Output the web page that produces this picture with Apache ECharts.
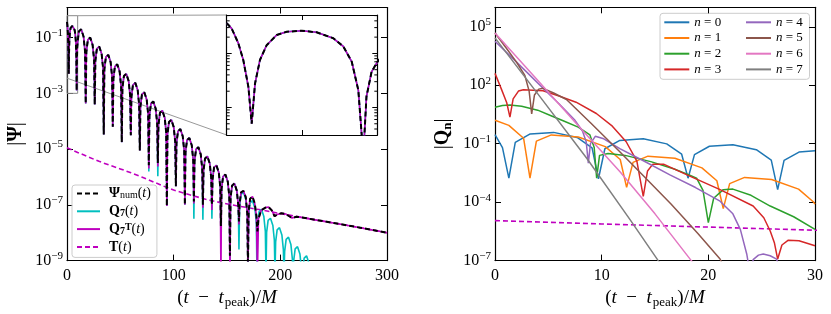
<!DOCTYPE html>
<html><head><meta charset="utf-8">
<script src="https://cdn.jsdelivr.net/npm/echarts@6/dist/echarts.min.js"></script>
<style>html,body{margin:0;padding:0;background:#fff}#c{width:831px;height:314px}</style>
</head><body><div id="c"></div>
<script>
// ---------------- data (values given as log10 of |value|) ----------------
const tGrid = [0,0.33,0.77,1.1,1.44,1.66,1.88,2.21,2.65,3.32,3.98,4.98,5.97,7.08,7.74,8.3,8.74,9.07,9.28,9.62,10.0,
11.1,13.3,15.5,16.9,17.55,
18.15,19.55,21.77,24.0,25.4,26.0,
26.6,28.0,30.22,32.45,33.85,34.45,
35.05,36.45,38.67,40.9,42.3,42.9,
43.5,44.9,47.12,49.35,50.75,51.35,
51.95,53.35,55.57,57.8,59.2,59.8,
60.4,61.8,64.02,66.25,67.65,68.25,
68.85,70.25,72.47,74.7,76.1,76.7,
77.3,78.7,80.92,83.15,84.55,85.15,
85.75,87.15,89.37,91.6,93.0,93.6,
94.2,95.6,97.82,100.05,101.45,102.05,
102.65,104.05,106.27,108.5,109.9,110.5,
111.1,112.5,114.72,116.95,118.35,118.95,
119.55,120.95,123.17,125.4,126.8,127.4,
128.0,129.4,131.62,133.85,135.25,135.85,
136.45,137.85,140.07,142.3,143.7,144.3,
144.9,146.3,148.52,150.75,152.15,152.75,
153.35,154.75,156.97,159.2,160.6,161.2];

const psiNumLog = [-0.44,-0.54,-0.81,-1.12,-1.62,-2.30,-1.56,-1.12,-0.85,-0.66,-0.60,-0.58,-0.61,-0.72,-0.87,-1.15,-1.68,-2.90,-1.80,-1.34,-1.16,
-0.78,-0.70,-0.96,-1.49,-3.36,
-1.51,-1.08,-1.00,-1.26,-1.79,-3.40,
-1.83,-1.40,-1.32,-1.58,-2.11,-4.48,
-2.13,-1.70,-1.62,-1.88,-2.41,-4.20,
-2.47,-2.04,-1.96,-2.22,-2.75,-4.75,
-2.81,-2.38,-2.30,-2.56,-3.09,-4.50,
-3.13,-2.70,-2.62,-2.88,-3.41,-5.05,
-3.47,-3.04,-2.96,-3.22,-3.75,-5.58,
-3.80,-3.37,-3.29,-3.55,-4.08,-5.50,
-4.13,-3.70,-3.62,-3.88,-4.41,-7.04,
-4.46,-4.03,-3.95,-4.21,-4.74,-6.33,
-4.79,-4.36,-4.28,-4.54,-5.07,-7.00,
-5.11,-4.68,-4.60,-4.86,-5.39,-6.88,
-5.44,-5.01,-4.93,-5.19,-5.72,-7.00,
-5.77,-5.34,-5.26,-5.52,-6.05,-7.00,
-6.09,-5.66,-5.58,-5.84,-6.37,-7.76,
-6.42,-5.99,-5.91,-6.17,-6.70,-8.83,
-6.74,-6.31,-6.23,-6.49,-7.02,-7.60];

const q7TLog = [-0.44,-0.54,-0.81,-1.12,-1.62,-2.30,-1.56,-1.12,-0.85,-0.66,-0.60,-0.58,-0.61,-0.72,-0.87,-1.15,-1.68,-2.90,-1.80,-1.34,-1.16,
-0.78,-0.70,-0.96,-1.49,-3.36,
-1.51,-1.08,-1.00,-1.26,-1.79,-3.40,
-1.83,-1.40,-1.32,-1.58,-2.11,-4.48,
-2.13,-1.70,-1.62,-1.88,-2.41,-4.20,
-2.47,-2.04,-1.96,-2.22,-2.75,-4.75,
-2.81,-2.38,-2.30,-2.56,-3.09,-4.50,
-3.13,-2.70,-2.62,-2.88,-3.41,-5.05,
-3.47,-3.04,-2.96,-3.22,-3.75,-5.70,
-3.80,-3.37,-3.29,-3.55,-4.08,-5.62,
-4.13,-3.70,-3.62,-3.88,-4.41,-7.04,
-4.46,-4.03,-3.95,-4.21,-4.74,-6.33,
-4.79,-4.36,-4.28,-4.54,-5.07,-7.00,
-5.11,-4.68,-4.60,-4.86,-5.39,-6.95,
-5.44,-5.01,-4.93,-5.19,-5.72,-7.10,
-5.77,-5.34,-5.26,-5.52,-6.05,-7.18,
-6.09,-5.66,-5.58,-5.84,-6.37,-9.50,
-6.42,-5.99,-5.91,-6.17,-6.70,-9.50,
-6.74,-6.31,-6.23,-6.49,-7.02,-7.70];

const q7Log = [-0.44,-0.54,-0.81,-1.12,-1.62,-2.30,-1.56,-1.12,-0.85,-0.66,-0.60,-0.58,-0.61,-0.72,-0.87,-1.15,-1.68,-2.90,-1.80,-1.34,-1.16,
-0.78,-0.70,-0.96,-1.49,-3.36,
-1.51,-1.08,-1.00,-1.26,-1.79,-3.40,
-1.83,-1.40,-1.32,-1.58,-2.11,-4.48,
-2.13,-1.70,-1.62,-1.88,-2.41,-4.20,
-2.47,-2.04,-1.96,-2.22,-2.75,-4.75,
-2.81,-2.38,-2.30,-2.56,-3.09,-4.50,
-3.13,-2.70,-2.62,-2.88,-3.41,-5.05,
-3.47,-3.04,-2.96,-3.22,-3.75,-5.80,
-3.80,-3.37,-3.29,-3.55,-4.08,-5.97,
-4.13,-3.70,-3.62,-3.88,-4.41,-7.04,
-4.46,-4.03,-3.95,-4.21,-4.74,-6.33,
-4.79,-4.36,-4.28,-4.54,-5.07,-7.00,
-5.11,-4.68,-4.60,-4.86,-5.39,-7.50,
-5.44,-5.01,-4.93,-5.19,-5.72,-7.53,
-5.77,-5.34,-5.26,-5.52,-6.05,-7.50,
-6.09,-5.66,-5.58,-5.84,-6.37,-8.00,
-6.42,-5.99,-5.91,-6.17,-6.70,-9.00,
-6.74,-6.31,-6.23,-6.49,-7.02,-8.60];

// late-time parts [t, log10 value]
const psiNumTail = [[161.8,-6.95],[163.2,-6.55],[165.4,-6.50],[167.6,-6.72],[169.0,-7.3],[169.65,-9.2],[170.3,-7.2],[171.7,-6.78],[173.85,-6.70],[176.0,-6.95],[177.6,-7.4],[178.5,-7.95],[179.5,-7.5],[182,-7.2],[186,-7.1],[189,-7.08],[192,-7.2],[194.6,-7.41],[197,-7.35],[201,-7.3],[205.3,-7.33],[208,-7.4],[211,-7.47],[215,-7.43],[220,-7.45],[230,-7.52],[250,-7.65],[275,-7.82],[300,-8.0]];
const q7TTail = [[161.8,-6.95],[163.2,-6.55],[165.4,-6.50],[167.6,-6.72],[169.0,-7.3],[169.65,-9.5],[170.3,-7.2],[171.7,-6.78],[173.85,-6.70],[176.0,-6.95],[177.6,-7.4],[178.5,-9.5],[179.5,-7.5],[182,-7.2],[186,-7.1],[189,-7.08],[192,-7.2],[194.6,-7.41],[197,-7.35],[201,-7.3],[205.3,-7.33],[208,-7.4],[211,-7.47],[215,-7.43],[220,-7.45],[230,-7.52],[250,-7.65],[275,-7.82],[300,-8.0]];
const q7Tail = [[161.8,-7.06],[163.2,-6.63],[165.42,-6.55],[167.65,-6.81],[169.05,-7.34],[169.65,-9.5],
[170.25,-7.36],[171.65,-6.93],[173.87,-6.85],[176.1,-7.11],[177.5,-7.64],[178.1,-9.5],
[178.7,-7.67],[180.1,-7.24],[182.32,-7.16],[184.55,-7.42],[185.95,-7.95],[186.55,-9.5],
[187.15,-7.99],[188.55,-7.56],[190.77,-7.48],[193.0,-7.74],[194.4,-8.27],[195.0,-9.5],
[195.6,-8.33],[197.0,-7.90],[199.22,-7.82],[201.45,-8.08],[202.85,-8.61],[203.45,-9.5],
[204.05,-8.67],[205.45,-8.24],[207.67,-8.16],[209.9,-8.42],[211.3,-8.95],[211.9,-9.5],
[212.5,-9.01],[213.9,-8.58],[216.12,-8.50],[218.35,-8.76],[219.75,-9.29],[220.35,-9.6],
[220.95,-9.34],[222.35,-8.91],[224.57,-8.83],[226.8,-9.09],[228.2,-9.62],[228.8,-10]];

// T(t) tail term
const tailTimes = [0,10,20,30,40,50,60,70,80,90,100,115,130,145,160,180,200,220,250,275,300];
const tailLog   = [-4.95,-5.12,-5.28,-5.44,-5.58,-5.71,-5.85,-6.0,-6.16,-6.32,-6.47,-6.64,-6.8,-6.93,-7.04,-7.17,-7.31,-7.45,-7.65,-7.82,-8.0];

// right panel |Q_n| , [t, log10 value]
const qn0 = [[0,-0.53],[0.7,-1.2],[1.3,-2.77],[1.9,-0.93],[3.3,-0.50],[5.5,-0.42],[7.7,-0.68],[9.1,-1.21],[9.7,-2.8],[10.3,-1.26],[11.7,-0.83],[13.9,-0.75],[16.1,-1.01],[17.5,-1.54],[18.1,-2.77],[18.7,-1.56],[20.1,-1.13],[22.3,-1.05],[24.5,-1.31],[25.9,-1.84],[26.5,-3.36],[27.1,-1.86],[28.5,-1.43],[30,-1.36]];
const qn1 = [[0,0.20],[1.3,-0.06],[2.68,-0.72],[3.28,-2.77],[3.88,-0.87],[5.28,-0.55],[7.81,-0.66],[10.34,-1.15],[11.74,-1.81],[12.34,-3.24],[12.94,-1.96],[14.34,-1.64],[16.87,-1.75],[19.4,-2.24],[20.8,-2.9],[21.4,-4.33],[22.0,-3.05],[23.4,-2.73],[25.93,-2.84],[28.46,-3.33],[29.86,-3.99],[30,-4.1]];
const qn2 = [[0,0.87],[0.7,0.96],[1.4,0.99],[2.5,0.92],[4,0.72],[5.2,0.45],[6.5,0.15],[7.8,-0.15],[8.9,-0.55],[9.3,-1.2],[9.53,-2.77],[9.8,-1.6],[10.6,-1.5],[12.2,-1.6],[14.6,-1.92],[16.8,-2.3],[18.2,-2.6],[18.9,-2.77],[19.5,-3.4],[20.0,-5.05],[20.5,-3.8],[21.4,-3.36],[22.3,-3.33],[24,-3.65],[25.8,-4.2],[28,-4.75],[30,-5.4]];
const qn3 = [[0,2.61],[0.6,1.8],[1.1,1.1],[1.4,0.36],[1.7,1.3],[2.2,1.7],[2.66,1.77],[4.5,1.72],[6,1.45],[7.6,1.13],[9.5,0.55],[11,-0.1],[12.3,-0.9],[13.3,-1.9],[13.9,-3.7],[14.3,-2.4],[14.8,-2.05],[15.8,-2.05],[18,-2.6],[21.1,-3.36],[24.2,-4.2],[25.2,-4.8],[25.8,-5.48],[26.2,-6.1],[26.5,-6.92],[26.9,-6.2],[27.5,-5.95],[28.5,-5.98],[30,-6.24]];
const qn4 = [[0,4.26],[2,3.2],[4,2.12],[6,1.05],[7.5,0.2],[8.2,-0.35],[8.55,-0.9],[8.75,-2.0],[8.95,-1.0],[9.4,-0.62],[10.2,-0.75],[11.7,-1.25],[14,-1.9],[16.4,-2.6],[18.8,-3.25],[21.1,-3.95],[22.3,-4.6],[23.0,-5.4],[23.6,-6.66],[23.8,-7.3],[23.95,-8],[24.2,-6.95],[24.7,-6.72],[25.15,-6.66],[25.8,-6.75],[26.4,-6.92],[26.7,-7.5]];
const qn5 = [[0,4.68],[1,3.95],[2,3.2],[2.8,2.5],[3.2,1.7],[3.44,0.53],[3.7,1.5],[4.1,1.8],[4.5,1.84],[5.5,1.6],[6.7,1.27],[9,0.05],[11.7,-1.41],[14,-2.7],[16.5,-4.1],[19,-5.6],[21.1,-6.92],[21.6,-7.5]];
const qn6 = [[0,4.68],[4,2.25],[8,-0.2],[11.7,-2.43],[15,-4.6],[18.4,-7],[19,-7.4]];
const qn7 = [[0,4.43],[4.3,1.35],[8.6,-1.75],[12.66,-4.9],[15.3,-7.0],[16,-7.5]];

const modeNames = ['n0','n1','n2','n3','n4','n5','n6','n7'];
const modeColors = ['#1f77b4','#ff7f0e','#2ca02c','#d62728','#9467bd','#8c564b','#e377c2','#7f7f7f'];

// inset / zoom box
const insetX = [0, 10];
const insetY = [3.1e-3, 0.513];
const zoomBoxY = [1e-3, 0.61];
const connectorLowY = 3.5e-3;
const insetMinorTicks = [4e-3,5e-3,6e-3,7e-3,8e-3,9e-3,2e-2,3e-2,4e-2,5e-2,6e-2,7e-2,8e-2,9e-2,2e-1,3e-1,4e-1,5e-1];

// ---------------- build ----------------
const P = v => Math.pow(10, v);
const gridSeries = (times, logs) => times.map((t, i) => [t, P(logs[i])]);
const pairSeries = arr => arr.map(d => [d[0], P(d[1])]);

const psiData  = gridSeries(tGrid, psiNumLog).concat(pairSeries(psiNumTail));
const q7TData  = gridSeries(tGrid, q7TLog).concat(pairSeries(q7TTail));
const q7Data   = gridSeries(tGrid, q7Log).concat(pairSeries(q7Tail));
const tailData = gridSeries(tailTimes, tailLog);
const modeData = [qn0,qn1,qn2,qn3,qn4,qn5,qn6,qn7].map(pairSeries);

const F = '"Liberation Serif", "DejaVu Serif", serif';
const MAGENTA = '#bf00bf', CYAN = '#00bfbf';

const logLabel = (show) => ({
  show: show, showMaxLabel: false, showMinLabel: true, margin: 4,
  formatter: v => { const e = Math.round(Math.log10(v)); return '{b|10}{s|' + (e < 0 ? '\u2212' : '') + Math.abs(e) + '}'; },
  rich: { b: {fontFamily: F, fontSize: 16, color: '#000'}, s: {fontFamily: F, fontSize: 11, color: '#000', padding: [0,0,9,0]} }
});
const axLine = {show: true, onZero: false, lineStyle: {color: '#000', width: 1.2}};
const tick = (len) => ({show: true, inside: true, length: len, lineStyle: {color: '#000', width: 1}});
const xLabel = {fontFamily: F, fontSize: 16, color: '#000', margin: 7};
const xName = '{r|(}{i|t}{r|\u2002\u2212\u2002}{i|t}{sub|peak}{r|)/}{i|M}';
const xNameStyle = {fontFamily: F, fontSize: 19, color: '#000', rich: {
  r: {fontFamily: F, fontSize: 19}, i: {fontFamily: F, fontSize: 19, fontStyle: 'italic'},
  sub: {fontFamily: F, fontSize: 13, padding: [9,0,0,1]} }};

const xAxes = [
  {gridIndex:0, type:'value', min:0, max:300, interval:100, position:'bottom', axisLine:axLine, axisTick:tick(6), axisLabel:xLabel, splitLine:{show:false},
   name: xName, nameLocation:'middle', nameGap: 24, nameTextStyle: xNameStyle},
  {gridIndex:0, type:'value', min:0, max:300, interval:100, position:'top', axisLine:axLine, axisTick:tick(6), axisLabel:{show:false}, splitLine:{show:false}},
  {gridIndex:1, type:'value', min:0, max:30, interval:10, position:'bottom', axisLine:axLine, axisTick:tick(6), axisLabel:xLabel, splitLine:{show:false},
   name: xName, nameLocation:'middle', nameGap: 24, nameTextStyle: xNameStyle},
  {gridIndex:1, type:'value', min:0, max:30, interval:10, position:'top', axisLine:axLine, axisTick:tick(6), axisLabel:{show:false}, splitLine:{show:false}},
  {gridIndex:2, type:'value', min:insetX[0], max:insetX[1], interval:5, position:'bottom', axisLine:axLine, axisTick:tick(5), axisLabel:{show:false}, splitLine:{show:false}, z: 6},
  {gridIndex:2, type:'value', min:insetX[0], max:insetX[1], interval:5, position:'top', axisLine:axLine, axisTick:tick(5), axisLabel:{show:false}, splitLine:{show:false}, z: 6}
];
const yName0 = '{r||}{B|\u03A8}{r||}';
const yName1 = '{r||}{B|Q}{sb|n}{r||}';
const yNameStyle = {fontFamily: F, fontSize: 20, color:'#000', rich: {
  r: {fontFamily: F, fontSize: 20}, B: {fontFamily: F, fontSize: 20, fontWeight: 'bold'},
  sb: {fontFamily: F, fontSize: 13, fontWeight: 'bold', padding: [9,0,0,0]} }};
const yAxes = [
  {gridIndex:0, type:'log', logBase:10, min:1e-9, max:1.2, interval:2, position:'left', axisLine:axLine, axisTick:tick(6), axisLabel:logLabel(true), splitLine:{show:false}, minorTick:{show:false},
   name: yName0, nameLocation:'middle', nameGap: 41, nameRotate: 90, nameTextStyle: yNameStyle},
  {gridIndex:0, type:'log', logBase:10, min:1e-9, max:1.2, interval:2, position:'right', axisLine:axLine, axisTick:tick(6), axisLabel:{show:false}, splitLine:{show:false}},
  {gridIndex:1, type:'log', logBase:10, min:1e-7, max:1e6, interval:3, position:'left', axisLine:axLine, axisTick:tick(6), axisLabel:logLabel(true), splitLine:{show:false},
   name: yName1, nameLocation:'middle', nameGap: 41, nameRotate: 90, nameTextStyle: yNameStyle},
  {gridIndex:1, type:'log', logBase:10, min:1e-7, max:1e6, interval:3, position:'right', axisLine:axLine, axisTick:tick(6), axisLabel:{show:false}, splitLine:{show:false}},
  {gridIndex:2, type:'log', logBase:10, min:insetY[0], max:insetY[1], position:'left', axisLine:axLine, axisTick:tick(5), axisLabel:{show:false}, splitLine:{show:false}, z: 6},
  {gridIndex:2, type:'log', logBase:10, min:insetY[0], max:insetY[1], position:'right', axisLine:axLine, axisTick:tick(5), axisLabel:{show:false}, splitLine:{show:false}, z: 6}
];

const lineS = (name, data, xi, yi, color, width, type, z) => ({
  type:'line', name, data, xAxisIndex: xi, yAxisIndex: yi, symbol:'none', showSymbol:false, silent:true, animation:false,
  lineStyle:{color, width, type: type || 'solid'}, itemStyle:{color}, z: z, clip: true
});

const series = [
  lineS('tail', tailData, 0, 0, MAGENTA, 1.6, [5,3], 2),
  lineS('q7', q7Data, 0, 0, CYAN, 1.6, 'solid', 3),
  lineS('q7t', q7TData, 0, 0, MAGENTA, 1.6, 'solid', 4),
  lineS('psi', psiData, 0, 0, '#000', 2, [5,3], 5),
  lineS('box', [[insetX[0],zoomBoxY[1]],[insetX[1],zoomBoxY[1]],[insetX[1],zoomBoxY[0]],[insetX[0],zoomBoxY[0]],[insetX[0],zoomBoxY[1]]], 0, 0, '#888', 1, 'solid', 1),
  // inset
  lineS('q7', q7Data, 4, 4, CYAN, 1.6, 'solid', 7),
  lineS('q7t', q7TData, 4, 4, MAGENTA, 1.6, 'solid', 8),
  lineS('psi', psiData, 4, 4, '#000', 2, [5,3], 9),
  {type:'custom', xAxisIndex:4, yAxisIndex:4, silent:true, z: 9, clip:false,
   data: insetMinorTicks.map(v => [insetX[0], v]),
   renderItem: (params, api) => {
     const v = api.value(1);
     const a = api.coord([insetX[0], v]), b = api.coord([insetX[1], v]);
     return {type:'group', children:[
       {type:'line', shape:{x1:a[0], y1:a[1], x2:a[0]+3, y2:a[1]}, style:{stroke:'#000', lineWidth:1}},
       {type:'line', shape:{x1:b[0]-3, y1:b[1], x2:b[0], y2:b[1]}, style:{stroke:'#000', lineWidth:1}}
     ]};
   }},
  // right panel
  lineS('tailR', tailData, 2, 2, MAGENTA, 1.6, [5,3], 2)
].concat(modeData.map((d, i) => lineS(modeNames[i], d, 2, 2, modeColors[i], 1.5, 'solid', 3)));

const legendRich = {
  B: {fontFamily: F, fontSize: 14, fontWeight: 'bold', color:'#000', lineHeight: 14},
  r: {fontFamily: F, fontSize: 14, color:'#000', lineHeight: 14},
  i: {fontFamily: F, fontSize: 14, fontStyle: 'italic', color:'#000', lineHeight: 14},
  sub: {fontFamily: F, fontSize: 10, color:'#000', lineHeight: 9, verticalAlign: 'bottom'},
  subB: {fontFamily: F, fontSize: 10, fontWeight:'bold', color:'#000', lineHeight: 9, verticalAlign: 'bottom'},
  supB: {fontFamily: F, fontSize: 10, fontWeight:'bold', color:'#000', lineHeight: 9, verticalAlign: 'top'}
};
const legendText = {
  psi: '{B|\u03A8}{sub|num}{r|(}{i|t}{r|)}',
  q7: '{B|Q}{subB|7}{r|(}{i|t}{r|)}',
  q7t: '{B|Q}{subB|7}{supB|T}{r|(}{i|t}{r|)}',
  tail: '{B|T}{r|(}{i|t}{r|)}'
};
const modeLegend = (names, left) => ({
  data: names, left, top: 15.8, orient: 'vertical', itemWidth: 25, itemHeight: 10, itemGap: 2.7,
  padding: 0, selectedMode: false, itemStyle: {opacity: 0},
  formatter: n => '{i|n}{r| = ' + n.slice(1) + '}',
  textStyle: {fontFamily: F, fontSize: 13, lineHeight: 13, rich: {i:{fontFamily:F, fontSize:13, fontStyle:'italic', color:'#000', lineHeight:13}, r:{fontFamily:F, fontSize:13, color:'#000', lineHeight:13}}}
});

const option = {
  backgroundColor: '#fff', animation: false,
  grid: [
    {left: 67, top: 7.5, width: 320, height: 255.5},
    {left: 495, top: 7.3, width: 320, height: 256},
    {left: 226.7, top: 15, width: 150.6, height: 120, show: true, backgroundColor: '#fff', borderWidth: 0, z: 5}
  ],
  xAxis: xAxes, yAxis: yAxes,
  legend: [
    {data: ['psi','q7','q7t','tail'], left: 72, top: 185, orient: 'vertical', itemWidth: 23, itemHeight: 12, itemGap: 3.8,
     padding: [1.5,6,3.5,4], borderColor: '#cccccc', borderWidth: 1, borderRadius: 3, backgroundColor: 'rgba(255,255,255,0.85)', selectedMode: false,
     itemStyle: {opacity: 0},
     formatter: n => legendText[n], textStyle: {fontFamily: F, fontSize: 14, lineHeight: 14, padding: [0,0,0,4], rich: legendRich}, z: 12},
    modeLegend(modeNames.slice(0,4), 663.3),
    modeLegend(modeNames.slice(4), 745)
  ],
  series: series
};

const chart = echarts.init(document.getElementById('c'), null, {renderer: 'canvas'});
chart.setOption(option);

// connector lines and legend frame for the right panel
const a1 = chart.convertToPixel({gridIndex: 0}, [insetX[1], zoomBoxY[1]]);
const b1 = chart.convertToPixel({gridIndex: 2}, [insetX[0], insetY[1]]);
const a2 = chart.convertToPixel({gridIndex: 0}, [insetX[0], connectorLowY]);
const b2 = chart.convertToPixel({gridIndex: 2}, [insetX[0], insetY[0]]);
chart.setOption({graphic: [
  {type:'line', shape:{x1:a1[0], y1:a1[1], x2:b1[0], y2:b1[1]}, style:{stroke:'#999', lineWidth:1}, z: 1, silent:true},
  {type:'line', shape:{x1:a2[0], y1:a2[1], x2:b2[0], y2:b2[1]}, style:{stroke:'#999', lineWidth:1}, z: 1, silent:true},
  {type:'rect', shape:{x:660, y:13.3, width:149.5, height:66, r:3}, style:{fill:'rgba(255,255,255,0.85)', stroke:'#cccccc', lineWidth:1}, z: 0, silent:true}
]});
</script></body></html>
